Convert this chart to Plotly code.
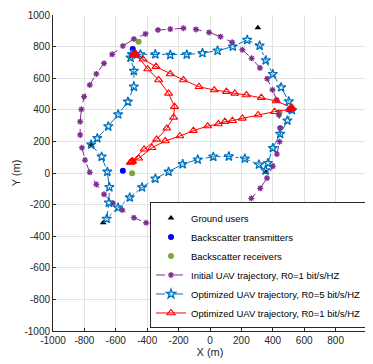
import plotly.graph_objects as go

# Ground users
gu_x = [305, -757, -680, 356]
gu_y = [920, 178, -315, 5]
# Backscatter transmitters
bt_x = [-492, -555, 505]
bt_y = [785, 15, 400]
# Backscatter receivers
br_x = [-455, -496, 443]
br_y = [831, -2, 385]

# Initial UAV trajectory (R0=1)
init_x = [447, 443, 426, 400, 363, 320, 263, 206, 141, 67, -11, -89, -169, -253, -332, -407,
          -485, -559, -618, -675, -724, -766, -796, -816, -827, -827, -819, -802, -766, -724,
          -675, -623, -555, -485, -411, -332, -253, -169, -89, -6, 67, 141, 206, 265, 318,
          364, 398, 425, 439, 447]
init_y = [285, 198, 120, 42, -32, -97, -160, -213, -261, -302, -325, -346, -356, -354, -335,
          -315, -283, -234, -192, -135, -72, 4, 82, 160, 241, 325, 403, 483, 557, 627, 694,
          751, 804, 848, 880, 905, 911, 916, 909, 890, 863, 827, 780, 726, 665, 597, 527, 462,
          367, 285]

# Optimized UAV trajectory, R0=5
opt5_x = [-496, -443, -348, -253, -148, -48, 48, 145, 237, 316, 355, 400, 453, 502, 522, 493,
          447, 400, 369, 354, 312, 222, 120, 21, -78, -174, -264, -348, -433, -511, -586, -658,
          -644, -641, -654, -690, -757, -718, -648, -585, -523, -485, -485, -506, -496]
opt5_y = [751, 751, 751, 747, 750, 759, 774, 800, 842, 806, 713, 626, 542, 453, 398, 332, 247,
          158, 63, 16, 53, 91, 105, 103, 85, 56, 8, -36, -91, -155, -219, -290, -188, -90, 8,
          103, 180, 220, 295, 371, 451, 546, 646, 730, 751]

# Optimized UAV trajectory, R0=1
opt1_x = [-488, -483, -478, -473, -397, -327, -264, -226, -232, -275, -340, -420, -508, -503,
          -498, -493, -454, -370, -285, -192, -106, -15, 53, 95, 143, 206, 306, 411, 508, 513,
          518, 523, 422, 327, 232, 158, 105, 27, -70, -169, -253, -344, -427, -488]
opt1_y = [746, 749, 752, 755, 658, 589, 504, 420, 352, 283, 213, 150, 66, 69, 72, 75, 93, 160,
          203, 234, 268, 297, 310, 325, 331, 346, 367, 388, 403, 406, 409, 412, 456, 477, 494,
          504, 515, 525, 546, 589, 627, 673, 720, 746]

tick_vals = [-1000, -800, -600, -400, -200, 0, 200, 400, 600, 800, 1000]
tick_text = [str(v) for v in tick_vals]

FONT = "Liberation Sans, Arial, Helvetica, sans-serif"
AX = "#262626"

fig = go.Figure()
fig.add_trace(go.Scatter(x=gu_x, y=gu_y, mode="markers", name="Ground users",
                         marker=dict(symbol="triangle-up", color="black", size=6)))
fig.add_trace(go.Scatter(x=bt_x, y=bt_y, mode="markers", name="Backscatter transmitters",
                         marker=dict(symbol="circle", color="#0000FF", size=6)))
fig.add_trace(go.Scatter(x=br_x, y=br_y, mode="markers", name="Backscatter receivers",
                         marker=dict(symbol="circle", color="#77AC30", size=6)))
fig.add_trace(go.Scatter(x=init_x, y=init_y, mode="lines+markers",
                         name="Initial UAV trajectory, R0=1 bit/s/HZ",
                         line=dict(color="#7E2F8E", width=1, dash="dash"),
                         marker=dict(symbol="asterisk-open", size=5, color="#7E2F8E",
                                     line=dict(color="#7E2F8E", width=1.3))))
fig.add_trace(go.Scatter(x=opt5_x, y=opt5_y, mode="lines+markers",
                         name="Optimized UAV trajectory, R0=5 bit/s/HZ",
                         line=dict(color="#0072BD", width=1, dash="dashdot"),
                         marker=dict(symbol="star-open", size=7, color="#0072BD",
                                     line=dict(color="#0072BD", width=1.3))))
fig.add_trace(go.Scatter(x=opt1_x, y=opt1_y, mode="lines+markers",
                         name="Optimized UAV trajectory, R0=1 bit/s/HZ",
                         line=dict(color="#FF0000", width=1),
                         marker=dict(symbol="triangle-up-open", size=7, color="#FF0000",
                                     line=dict(color="#FF0000", width=1.1))))

axis_common = dict(range=[-1000, 1000], tickvals=tick_vals, ticktext=tick_text,
                   showgrid=True, gridcolor="#E3E3E3", gridwidth=1, zeroline=False,
                   showline=True, linecolor=AX, linewidth=1, mirror=False,
                   ticks="inside", ticklen=3, tickcolor=AX,
                   tickfont=dict(family=FONT, size=10, color=AX), automargin=False)

fig.update_layout(
    width=365, height=356,
    margin=dict(l=45, r=6, t=7, b=33),
    paper_bgcolor="white", plot_bgcolor="white",
    font=dict(family=FONT, size=10, color=AX),
    xaxis=dict(**axis_common, title=dict(text="X (m)", font=dict(family=FONT, size=11, color=AX), standoff=3)),
    yaxis=dict(**axis_common, title=dict(text="Y (m)", font=dict(family=FONT, size=11, color=AX), standoff=1)),
    legend=dict(x=1, y=0.008, xanchor="right", yanchor="bottom", bgcolor="white",
                bordercolor=AX, borderwidth=1, font=dict(family=FONT, size=9.5, color="black"),
                tracegroupgap=0, itemwidth=30),
    showlegend=True,
)

fig.write_html("out.html")
